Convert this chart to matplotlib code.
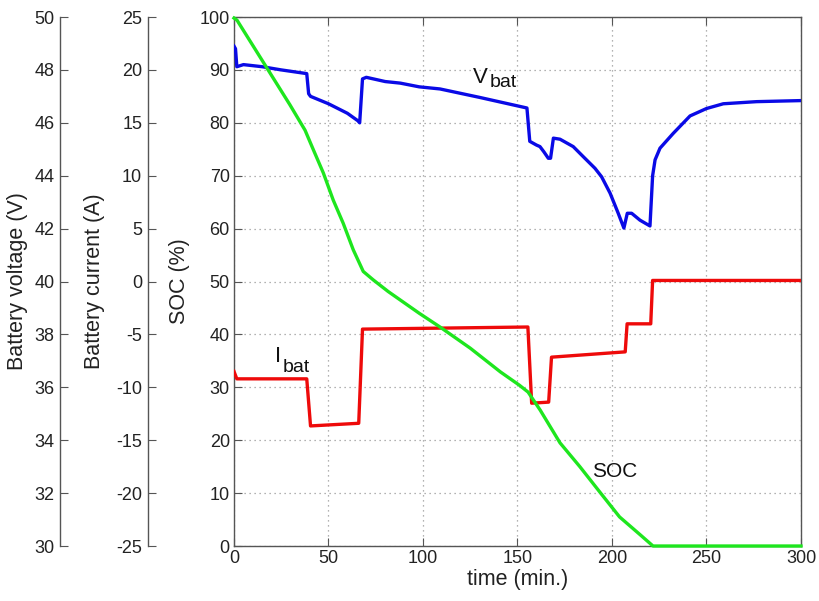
import matplotlib
matplotlib.use('Agg')
import matplotlib.pyplot as plt
from matplotlib.transforms import offset_copy

plt.rcParams['font.family'] = ['Liberation Sans', 'DejaVu Sans']
plt.rcParams['axes.unicode_minus'] = False

# Battery voltage (V) versus time (min.)
time_v = [0, 0.8, 1.5, 5, 15, 25, 38.5, 39.5, 40.5, 50, 60, 65.5, 66.5,
          68, 70, 80, 88, 98, 109, 130, 150, 155, 156.5, 160, 161.9, 164,
          166.3, 167.5, 169, 172.5, 179.5, 184.8, 191, 194.5, 199, 203.3,
          206.3, 208.1, 210.4, 214.8, 220.1, 221.5, 222.8, 225.4, 232.4,
          241.3, 250, 258.9, 276.5, 300]
vbat = [48.9, 48.8, 48.12, 48.2, 48.12, 48.0, 47.86, 47.1, 47.0, 46.72,
        46.36, 46.08, 46.0, 47.66, 47.72, 47.56, 47.5, 47.36, 47.28, 46.96,
        46.64, 46.56, 45.3, 45.16, 45.1, 44.9, 44.66, 44.66, 45.42, 45.38,
        45.1, 44.72, 44.28, 43.96, 43.34, 42.58, 42.02, 42.58, 42.58, 42.32,
        42.1, 44.0, 44.6, 45.04, 45.6, 46.26, 46.54, 46.72, 46.8, 46.84]

# Battery current (A) versus time (min.)
time_i = [0, 1.5, 38.5, 40.5, 66, 68, 155.5, 157.5, 166.5, 168, 207, 208,
          220.5, 221.5, 300]
ibat = [-8.5, -9.2, -9.2, -13.65, -13.4, -4.5, -4.3, -11.5, -11.4, -7.15,
        -6.65, -4.0, -4.0, 0.1, 0.1]

# State of charge (%) versus time (min.)
time_soc = [0, 1.6, 29.6, 37.6, 42, 47.3, 52.5, 57.8, 63.1, 68.4, 73.7,
            81.6, 98, 109, 125, 141, 151, 155.6, 162, 172.5, 183, 194, 204,
            215, 221.7, 300]
soc = [99.8, 99.4, 83.4, 78.6, 74.9, 70.5, 65.4, 61.0, 56.0, 51.9, 50.3,
       48.1, 44.0, 41.4, 37.4, 32.9, 30.4, 29.1, 25.7, 19.5, 15.0, 10.0, 5.5,
       2.1, 0.0, 0.0]

time_ticks = [0, 50, 100, 150, 200, 250, 300]
soc_ticks = [0, 10, 20, 30, 40, 50, 60, 70, 80, 90, 100]
volt_ticks = [30, 32, 34, 36, 38, 40, 42, 44, 46, 48, 50]
curr_ticks = [-25, -20, -15, -10, -5, 0, 5, 10, 15, 20, 25]

SPINE = '#555555'
TEXT = '#222222'
FS_TICK = 13
FS_LABEL = 15.5
LW = 2.4

fig = plt.figure(figsize=(8.19, 6.01), dpi=100)
fig.patch.set_facecolor('white')
ax = fig.add_axes([0.2857, 0.0915, 0.6923, 0.8802])

# main SOC axis
ax.set_xlim(0, 300)
ax.set_ylim(0, 100)
ax.set_xticks(time_ticks)
ax.set_yticks(soc_ticks)
ax.grid(True, linestyle=(0, (1, 3)), color='#999999', linewidth=0.9)
ax.tick_params(direction='in', top=True, right=True, length=6,
               labelsize=FS_TICK, colors=SPINE, labelcolor=TEXT, pad=3)
for s in ax.spines.values():
    s.set_color(SPINE)
    s.set_linewidth(1.0)
ax.set_xlabel('time (min.)', fontsize=FS_LABEL, color=TEXT, labelpad=1)
ax.set_ylabel('SOC (%)', fontsize=FS_LABEL, color=TEXT)
ax.yaxis.set_label_coords(-0.078, 0.5)


def side_axis(pos, lims, ticks, label, label_x):
    a = ax.twinx()
    a.patch.set_visible(False)
    a.set_ylim(*lims)
    a.set_yticks(ticks)
    a.yaxis.set_ticks_position('left')
    a.yaxis.set_label_position('left')
    a.spines['left'].set_position(('axes', pos))
    a.spines['left'].set_color(SPINE)
    a.spines['left'].set_linewidth(1.0)
    for k in ('right', 'top', 'bottom'):
        a.spines[k].set_visible(False)
    a.tick_params(axis='y', direction='in', length=6, labelsize=FS_TICK,
                  colors=SPINE, labelcolor=TEXT, pad=4,
                  left=True, right=False, labelleft=True, labelright=False)
    a.set_ylabel(label, fontsize=FS_LABEL, color=TEXT)
    a.yaxis.set_label_coords(label_x, 0.5)
    return a


ax_v = side_axis(-0.307, (30, 50), volt_ticks, 'Battery voltage (V)', -0.363)
ax_i = side_axis(-0.152, (-25, 25), curr_ticks, 'Battery current (A)', -0.2275)

ax_v.plot(time_v, vbat, color='#0a0ae6', linewidth=LW)
ax_i.plot(time_i, ibat, color='#ee0a0a', linewidth=LW)
ax_soc = ax.twinx()
ax_soc.patch.set_visible(False)
ax_soc.set_ylim(0, 100)
ax_soc.axis('off')
ax_soc.plot(time_soc, soc, color='#1ee61e', linewidth=LW, clip_on=False)


def sub_label(main, sub, x, y, dy):
    ax.text(x, y, main, fontsize=16, color='#111111', ha='left',
            va='baseline')
    t = ax.text(x, y, main, fontsize=16, alpha=0)
    fig.canvas.draw()
    w = t.get_window_extent().width * 72 / fig.dpi
    t.remove()
    tr = offset_copy(ax.transData, fig=fig, x=w + 1, y=-dy, units='points')
    ax.text(x, y, sub, fontsize=14, color='#111111', ha='left',
            va='baseline', transform=tr)


sub_label('V', 'bat', 126.5, 87.5, 2.5)
sub_label('I', 'bat', 21.7, 34.8, 7.5)
ax.text(189.4, 13.0, 'SOC', fontsize=15, color='#111111', ha='left',
        va='baseline')

fig.savefig('out.png', dpi=100, facecolor='white')
